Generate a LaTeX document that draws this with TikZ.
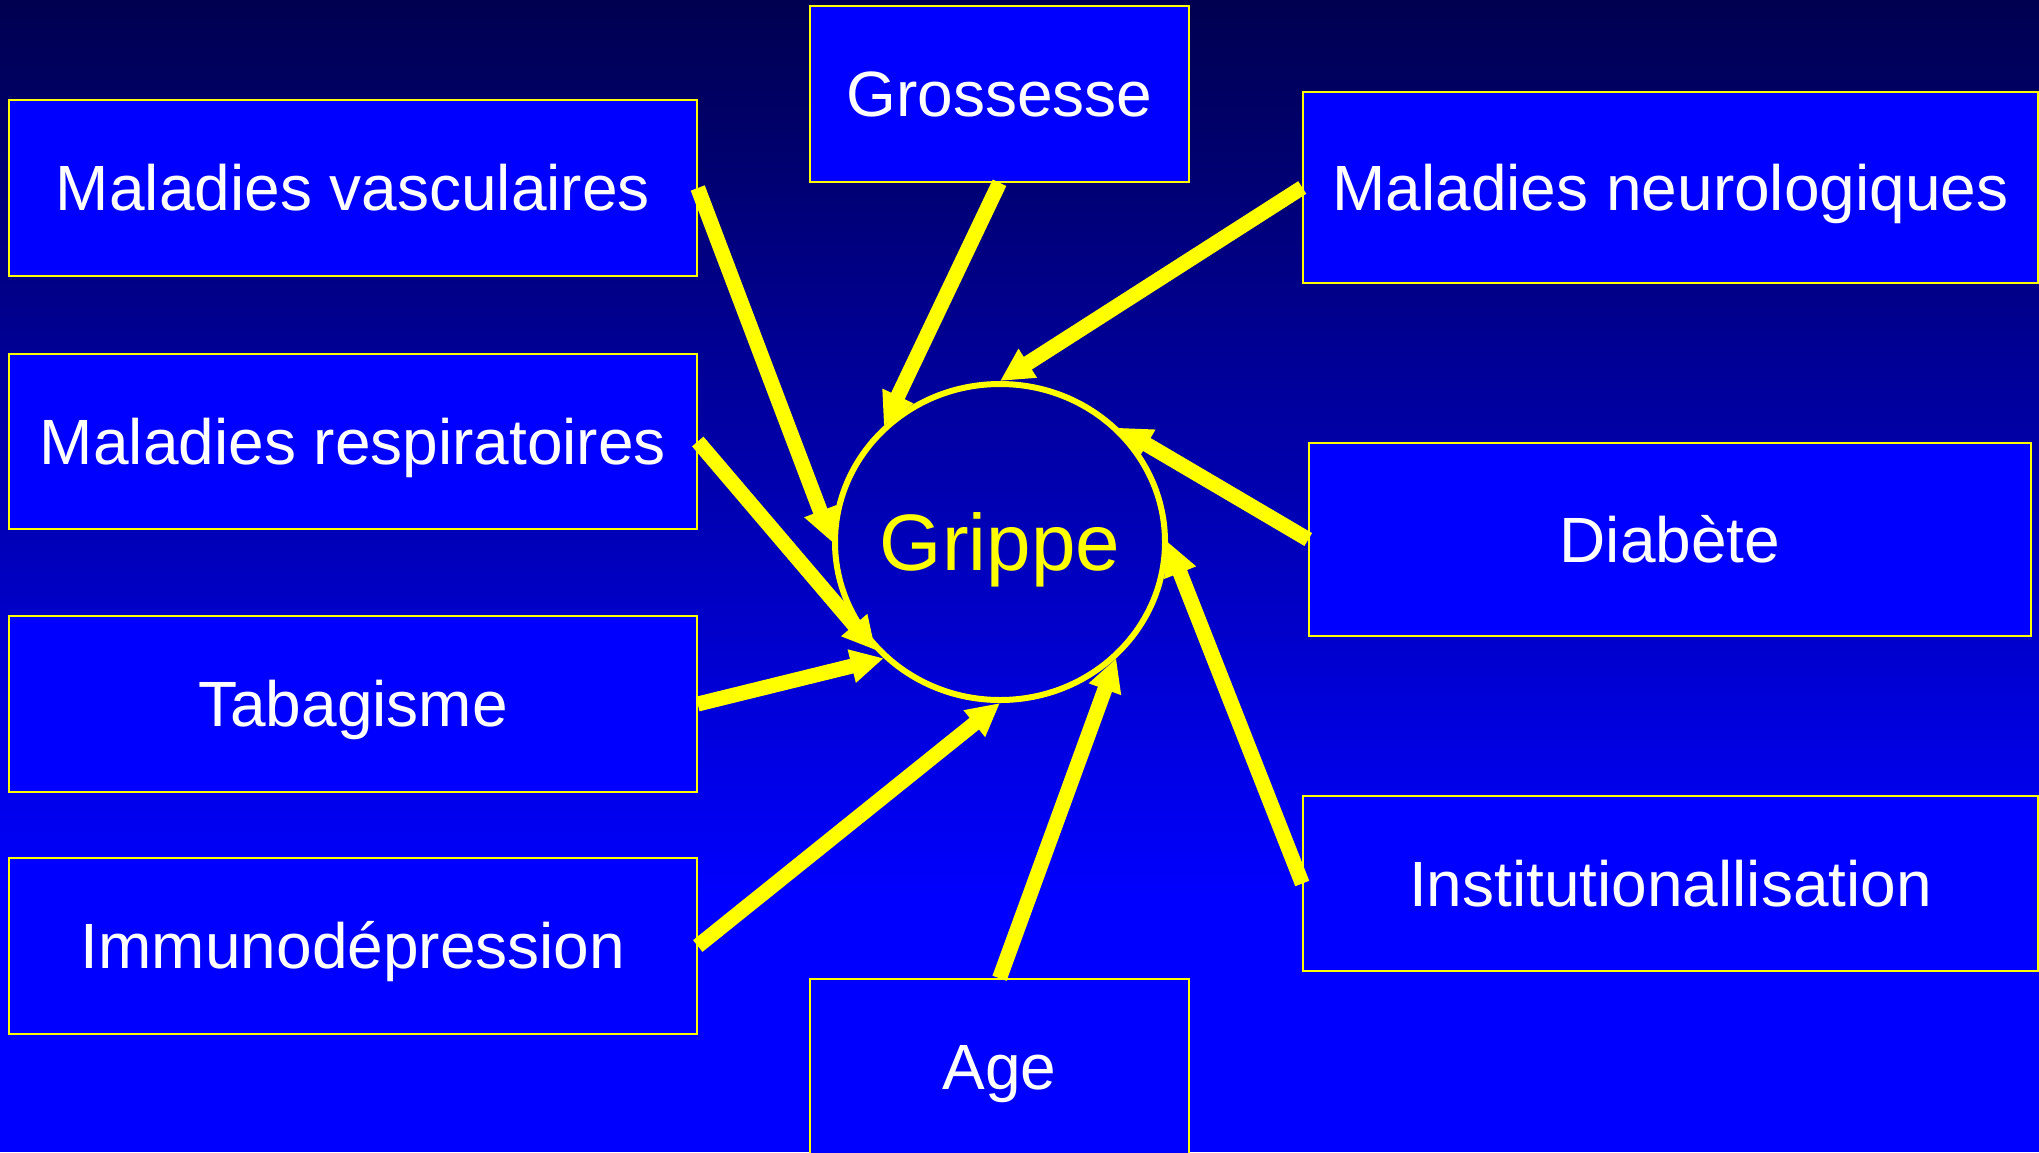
\documentclass[tikz,border=0pt]{standalone}
\usepackage{fontspec}
\setmainfont{Liberation Sans}
\usetikzlibrary{shapes.geometric,arrows.meta}
\definecolor{bgtop}{RGB}{0,0,80}
\definecolor{bgbot}{RGB}{0,0,255}
\definecolor{boxblue}{RGB}{0,0,255}
\definecolor{ylw}{RGB}{255,255,0}
\begin{document}
\begin{tikzpicture}[x=1pt,y=-1pt,
  box/.style={draw=ylw, line width=1.5pt, fill=boxblue, text=white, inner sep=0pt,
    font=\fontsize{64}{77}\selectfont, text height=45.8pt, text depth=0pt},
  link/.style={draw=ylw, line width=15pt, -{Triangle[length=33pt,width=32pt]}}]
\useasboundingbox (0,0) rectangle (2039,1152);
\shade[top color=bgtop, bottom color=bgbot] (0,0) rectangle (2039,900);
\fill[bgbot] (0,899) rectangle (2039,1152);

\node[box, minimum width=688pt, minimum height=176pt] (vasc) at (353,188) {Maladies vasculaires};
\node[box, minimum width=688pt, minimum height=175pt] (resp) at (353,441.5) {Maladies respiratoires};
\node[box, minimum width=688pt, minimum height=176pt] (tabac) at (353,704) {Tabagisme};
\node[box, minimum width=688pt, minimum height=176pt] (immuno) at (353,946) {Immunodépression};
\node[box, minimum width=379pt, minimum height=176pt] (gross) at (999.5,94) {Grossesse};
\node[box, minimum width=379pt, minimum height=176pt] (age) at (999.5,1067) {Age};
\node[box, minimum width=735pt, minimum height=191pt] (neuro) at (1670.5,187.5) {Maladies neurologiques};
\node[box, minimum width=722pt, minimum height=193pt] (diab) at (1670,539.5) {Diabète};
\node[box, minimum width=735pt, minimum height=175pt] (inst) at (1670.5,883.5) {Institutionallisation};

\node[ellipse, draw=ylw, line width=6pt, minimum width=330pt, minimum height=316pt,
  inner xsep=-5pt, inner ysep=0pt, text=ylw, font=\fontsize{80}{96}\selectfont,
  text height=57.3pt, text depth=0pt] (g) at (1000,542) {Grippe};

\draw[link] (vasc.east) -- (g.180);
\draw[link] (resp.east) -- (g.221);
\draw[link] (tabac.east) -- (g.225);
\draw[link] (immuno.east) -- (g.270);
\draw[link] (age.north) -- (g.315);
\draw[link] (inst.west) -- (g.0);
\draw[link] (diab.west) -- (g.44);
\draw[link] (neuro.west) -- (g.90);
\draw[link] (gross.south) -- (g.135);
\end{tikzpicture}
\end{document}
